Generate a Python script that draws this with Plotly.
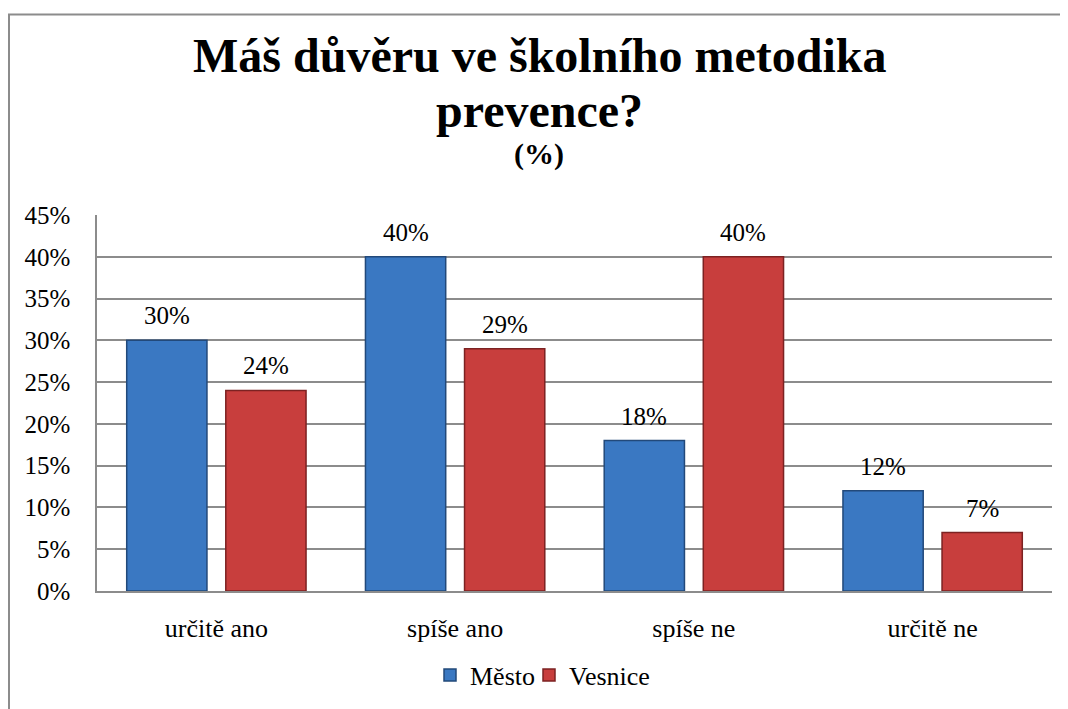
import plotly.graph_objects as go

categories = ["určitě ano", "spíše ano", "spíše ne", "určitě ne"]
mesto = [0.30, 0.40, 0.18, 0.12]
vesnice = [0.24, 0.29, 0.40, 0.07]
series_names = ["Město", "Vesnice"]
yticks = [0, 0.05, 0.10, 0.15, 0.20, 0.25, 0.30, 0.35, 0.40, 0.45]

FONT = "Liberation Serif, Tinos, DejaVu Serif"
BARGAP = 0.17
BARGROUPGAP = 0.19

W, H = 1060, 701
L, T, R, B = 89, 207, 16, 117
PW, PH = W - L - R, H - T - B


def py(fig_y):
    return (H - B - fig_y) / PH


def px(fig_x):
    return (fig_x - L) / PW


fig = go.Figure()
fig.add_trace(go.Bar(
    name=series_names[0], x=categories, y=mesto, legend="legend",
    marker=dict(color="#3A78C2", line=dict(color="#22497A", width=1.5)),
))
fig.add_trace(go.Bar(
    name=series_names[1], x=categories, y=vesnice, legend="legend2",
    marker=dict(color="#C83E3D", line=dict(color="#7C2222", width=1.5)),
))

slot = (1 - BARGAP) / 2
annotations = []
for si, vals in enumerate([mesto, vesnice]):
    off = (si - 0.5) * slot
    for i, v in enumerate(vals):
        annotations.append(dict(
            x=i + off, y=v, xref="x", yref="y", text=f"{round(v*100)}%",
            showarrow=False, yanchor="bottom", yshift=9,
            font=dict(family=FONT, size=25, color="#000000"),
        ))

title_x = px(531)
annotations.append(dict(
    x=title_x, y=py(47), xref="paper", yref="paper",
    text="<b>Máš důvěru ve školního metodika</b>", showarrow=False,
    yanchor="middle", font=dict(family=FONT, size=48, color="#000000"),
))
annotations.append(dict(
    x=title_x, y=py(102), xref="paper", yref="paper",
    text="<b>prevence?</b>", showarrow=False,
    yanchor="middle", font=dict(family=FONT, size=48, color="#000000"),
))
annotations.append(dict(
    x=title_x, y=py(146), xref="paper", yref="paper",
    text="<b>(%)</b>", showarrow=False,
    yanchor="middle", font=dict(family=FONT, size=30, color="#000000"),
))

legend_common = dict(orientation="h", xanchor="left", yanchor="middle", y=py(667),
                     font=dict(family=FONT, size=26, color="#000000"), itemwidth=30,
                     bgcolor="rgba(0,0,0,0)")

fig.update_layout(
    width=W, height=H, autosize=False,
    margin=dict(l=L, r=R, t=T, b=B),
    paper_bgcolor="white", plot_bgcolor="white",
    barmode="group", bargap=BARGAP, bargroupgap=BARGROUPGAP,
    font=dict(family=FONT, size=25, color="#000000"),
    showlegend=True,
    legend=dict(x=px(422), **legend_common),
    legend2=dict(x=px(521), **legend_common),
    annotations=annotations,
    shapes=[dict(type="rect", xref="paper", yref="paper",
                 x0=px(1), x1=px(1090),
                 y0=py(730), y1=py(6),
                 line=dict(color="#8C8C8C", width=2), layer="below")],
)
fig.update_xaxes(showgrid=False, showline=True, linecolor="#8C8C8C", linewidth=2,
                 ticks="", tickfont=dict(family=FONT, size=26, color="#000000"),
                 ticklabelstandoff=13)
fig.update_yaxes(range=[0, 0.45], tickvals=yticks, tickformat=".0%",
                 showgrid=True, gridcolor="#8C8C8C", gridwidth=1.5,
                 showline=True, linecolor="#8C8C8C", linewidth=1.5,
                 zeroline=False, ticks="",
                 tickfont=dict(family=FONT, size=25, color="#000000"),
                 ticklabelstandoff=20)

fig.write_html("out.html")
